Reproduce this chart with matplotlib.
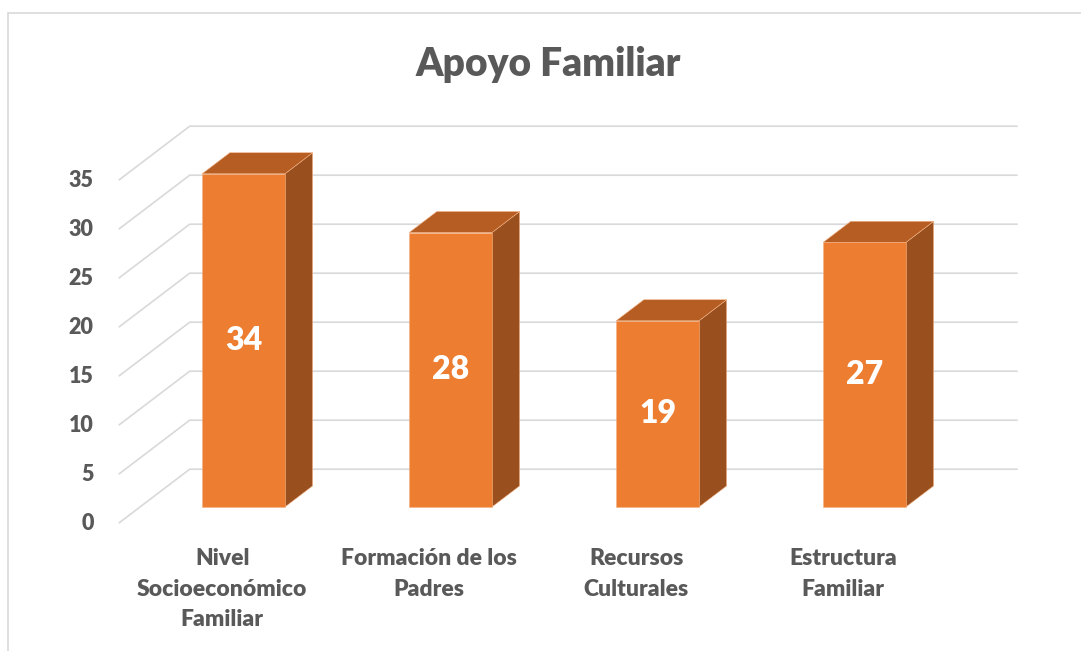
import numpy as np
import matplotlib.pyplot as plt
from matplotlib.patches import Polygon, Rectangle

plt.rcParams["font.family"] = ["Lato", "DejaVu Sans"]

# ---------------------------- DATA -------------------------------------
categories = ["Nivel\nSocioeconómico\nFamiliar", "Formación de los\nPadres",
              "Recursos\nCulturales", "Estructura\nFamiliar"]
values     = [34, 28, 19, 27]
yticks     = [0, 5, 10, 15, 20, 25, 30, 35]
title      = "Apoyo Familiar"

# ---------------------------- STYLE ------------------------------------
c_front, c_top, c_side = "#ED7D31", "#B55D22", "#9A501E"
c_grid, c_text = "#D9D9D9", "#595959"
fw = "heavy"

W, H = 1081, 651
KX, KY = 207.0, 9.8           # px per category / px per value unit
x0_px, y0_px = 243.5, 507     # pixel position of first bar, value 0
DX, DY = 71 / KX, 54 / KY     # floor depth (front edge -> back wall)
D0, D1 = 0.30, 0.69           # bar front / back depth
bw = 0.40                     # bar width (category units)

def proj(x, v, d):
    return x + (d - D0) * DX, v + (d - D0) * DY

fig = plt.figure(figsize=(W / 100, H / 100), dpi=100)
ax = fig.add_axes([0, 0, 1, 1])
ax.set_xlim(-x0_px / KX, (W - x0_px) / KX)
ax.set_ylim(-(H - y0_px) / KY, y0_px / KY)
ax.axis("off")

# chart border
fig.patches.append(Rectangle((8 / W, -0.1), 1.2, 1.1 - 13 / H, transform=fig.transFigure,
                             fill=False, ec=c_grid, lw=1.2))

# gridlines: left wall diagonal + back wall
xl, xr = -0.5, len(values) - 0.5
for v in yticks:
    pts = np.array([proj(xl, v, 0), proj(xl, v, 1), proj(xr, v, 1)])
    ax.plot(pts[:, 0], pts[:, 1], color=c_grid, lw=1.2, zorder=1, solid_capstyle="butt")
    ax.annotate(str(v), xy=proj(xl, v, 0), xytext=(-18, 0), textcoords="offset points",
                ha="right", va="center", fontsize=15.5, fontweight=fw, color=c_text)

# bars
for i, v in enumerate(values):
    l, r = i - bw / 2, i + bw / 2
    front = [proj(l, 0, D0), proj(r, 0, D0), proj(r, v, D0), proj(l, v, D0)]
    top   = [proj(l, v, D0), proj(r, v, D0), proj(r, v, D1), proj(l, v, D1)]
    side  = [proj(r, 0, D0), proj(r, 0, D1), proj(r, v, D1), proj(r, v, D0)]
    for poly, c in ((side, c_side), (top, c_top), (front, c_front)):
        ax.add_patch(Polygon(poly, closed=True, fc=c, ec="#F4B183", lw=0.4, zorder=3))
    ax.text(i, v / 2, str(v), ha="center", va="center", fontsize=23,
            fontweight=fw, color="white", zorder=4)
    ax.annotate(categories[i], xy=proj(i, 0, 0), xytext=(0, -18), textcoords="offset points",
                ha="center", va="top", fontsize=16.5, fontweight=fw, color=c_text,
                linespacing=1.55)

fig.text(548 / W, 1 - 76 / H, title, ha="center", va="baseline", fontsize=28,
         fontweight=fw, color=c_text)

fig.savefig("out.png", dpi=100)
